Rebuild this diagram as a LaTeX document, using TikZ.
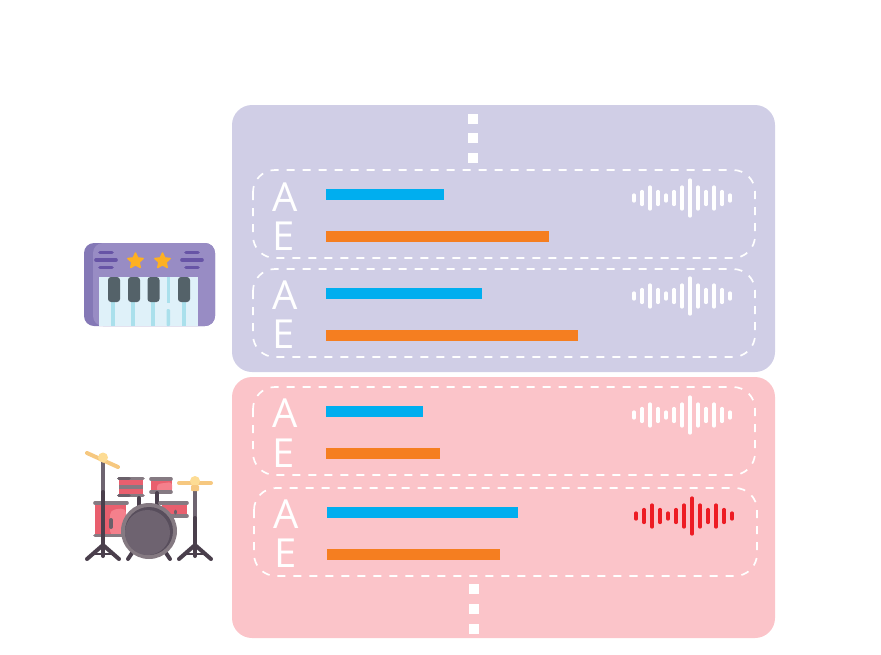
\documentclass[tikz,border=0pt]{standalone}
\usepackage{fontspec}
\setmainfont{Open Sans}
\usetikzlibrary{shapes.geometric}
\definecolor{panelviolet}{RGB}{208,206,230}
\definecolor{panelpink}{RGB}{251,196,201}
\definecolor{barblue}{RGB}{0,174,239}
\definecolor{barorange}{RGB}{245,126,32}
\definecolor{wavered}{RGB}{237,28,36}
\definecolor{pianobody}{RGB}{152,140,196}
\definecolor{pianoside}{RGB}{132,120,182}
\definecolor{pianoline}{RGB}{103,84,166}
\definecolor{keywhite}{RGB}{223,241,249}
\definecolor{keyline}{RGB}{170,224,236}
\definecolor{keyblack}{RGB}{84,98,105}
\definecolor{staryellow}{RGB}{253,176,34}
\definecolor{drumred}{RGB}{233,95,110}
\definecolor{drumlight}{RGB}{244,128,140}
\definecolor{drumgrey}{RGB}{133,122,130}
\definecolor{drumdark}{RGB}{106,96,106}
\definecolor{drumface}{RGB}{110,99,112}
\definecolor{drumshade}{RGB}{88,78,92}
\definecolor{standdark}{RGB}{74,63,76}
\definecolor{standlight}{RGB}{110,100,112}
\definecolor{cymbal}{RGB}{246,200,128}
\definecolor{cymbaltop}{RGB}{253,220,148}
\tikzset{
  panel/.style={rounded corners=20},
  rowbox/.style={draw=white,line width=1.7,rounded corners=22,dash pattern=on 8 off 8},
  rowtext/.style={text=white,font=\fontsize{40}{40}\selectfont,inner sep=0},
  dotbox/.style={fill=white},
  wavebar/.style={line width=3.2,line cap=round},
  stand/.style={line width=4,color=standdark,line cap=round},
  rim/.style={line width=3.6,color=drumgrey,line cap=round},
  pianostar/.style={star,star points=5,star point ratio=2.1,fill=staryellow,draw=staryellow,line join=round,line width=1.5,inner sep=0,minimum size=16}
}
% one sound wave, centred on (#1,#2)
\newcommand{\soundwave}[3]{
  \foreach \i/\h in {-48/3,-40/6.5,-32/11,-24/6.5,-16/3,-8/6.5,0/11,8/18,16/11,24/6.5,32/11,40/6.5,48/3}
    \draw [wavebar,color=#3] (#1+\i,#2-\h) -- (#1+\i,#2+\h);
}
\begin{document}
\begin{tikzpicture}[x=1pt,y=1pt,yscale=-1,xscale=1]
\useasboundingbox (0,0) rectangle (881,654);

%Panels
\fill [panel,panelviolet] (232,105) rectangle (775,372);
\fill [panel,panelpink] (232,377) rectangle (775,638);

%Dots
\foreach \y in {114,133,153}
  \fill [dotbox] (468,\y) rectangle +(10,10);
\foreach \y in {584,604,624}
  \fill [dotbox] (469,\y) rectangle +(10,10);

%Row boxes
\draw [rowbox] (253,170) rectangle (755,258);
\draw [rowbox] (253,269) rectangle (755,357);
\draw [rowbox] (253,387) rectangle (755,475);
\draw [rowbox] (254,488) rectangle (757,576);

%Row labels
\node [rowtext] (a1) at (285,197) {A};
\node [rowtext] (e1) at (284,236) {E};
\node [rowtext] (a2) at (285,295) {A};
\node [rowtext] (e2) at (284,334) {E};
\node [rowtext] (a3) at (285,413) {A};
\node [rowtext] (e3) at (284,453) {E};
\node [rowtext] (a4) at (286.5,514) {A};
\node [rowtext] (e4) at (285.5,553) {E};

%Bars
\fill [barblue] (326,189) rectangle (444,200);
\fill [barorange] (326,231) rectangle (549,242);
\fill [barblue] (326,288) rectangle (482,299);
\fill [barorange] (326,330) rectangle (578,341);
\fill [barblue] (326,406) rectangle (423,417);
\fill [barorange] (326,448) rectangle (440,459);
\fill [barblue] (327,507) rectangle (518,518);
\fill [barorange] (327,549) rectangle (500,560);

%Waves
\soundwave{682}{198}{white}
\soundwave{682}{296}{white}
\soundwave{682}{415}{white}
\soundwave{684}{516}{wavered}

%Piano
\fill [pianoside,rounded corners=10] (84,243) rectangle (215,326);
\fill [pianobody,rounded corners=10] (93,326) -- (93,243) -- (215,243) -- (215,326) -- cycle;
\fill [keywhite] (99,277) rectangle (198,326);
\foreach \x in {113,133,153,184}
  \fill [keyline] (\x-2,300) rectangle (\x+2,326);
\fill [keyline] (166.5,277) rectangle (170,303);
\fill [keyline,rounded corners=1] (166.5,309) rectangle (170,326);
\foreach \x in {114,134,153.5,184}
  \fill [keyblack,rounded corners=3] (\x-6,277) -- (\x+6,277) -- (\x+6,302) -- (\x-6,302) -- cycle;
\foreach \x in {98,184}{
  \draw [pianoline,line width=3.6,line cap=round] (\x+2,252.5) -- (\x+14,252.5);
  \draw [pianoline,line width=3.6,line cap=round] (\x-2,260) -- (\x+18,260);
  \draw [pianoline,line width=3.6,line cap=round] (\x+2,267.5) -- (\x+14,267.5);
}
\node [pianostar] (star1) at (135.5,261) {};
\node [pianostar] (star2) at (162.5,261) {};

%Drums: small toms
\fill [drumred] (119,479) rectangle (143,495);
\draw [rim] (119,478.5) -- (143,478.5);
\draw [rim] (119,495.5) -- (143,495.5);
\draw [line width=4,drumgrey] (119,487) -- (143,487);
\draw [line width=3.6,drumdark,line cap=round] (119,478.5) -- (129,478.5);
\draw [line width=3.6,drumdark,line cap=round] (119,495.5) -- (129,495.5);
\fill [drumred] (151,479) rectangle (172,492);
\fill [drumlight,rounded corners=3] (157,492) -- (157,484) -- (172,482) -- (172,492) -- cycle;
\draw [rim] (151,479) -- (171,479);
\draw [rim] (151,492) -- (171,492);
\draw [stand] (139,498) -- (139,510);
\draw [stand] (157,493) -- (157,505);

%Drums: side toms
\fill [drumred] (95,503) rectangle (126,536);
\fill [drumlight,rounded corners=5] (110,536) -- (110,510) -- (126,508) -- (126,536) -- cycle;
\draw [rim] (95,503) -- (127,503);
\draw [rim] (95,535.5) -- (127,535.5);
\draw [line width=4,line cap=round,drumdark] (111,520) -- (111,527);
\fill [drumred] (162,505) rectangle (187,516);
\draw [rim] (160,503) -- (187,503);
\draw [rim] (165,516) -- (187,516);
\draw [line width=3,line cap=round,drumdark] (175,511) -- (175,513);

%Drums: left cymbal stand
\draw [line width=4,standlight] (103,458) -- (103,492);
\draw [stand] (103,492) -- (103,545);
\draw [stand] (103,545) -- (87,559);
\draw [stand] (103,545) -- (119,559);
\draw [stand] (103,545) -- (103,556);
\draw [line width=2.5,standdark] (93,554) -- (113,554);
\draw [line width=4,cymbal,line cap=round] (87,453) -- (118,467);
\fill [cymbaltop] (103,457.5) circle (5);

%Drums: right cymbal stand
\draw [line width=4,standlight] (195,491) -- (195,518);
\draw [stand] (195,518) -- (195,545);
\draw [stand] (195,545) -- (179,559);
\draw [stand] (195,545) -- (211,559);
\draw [stand] (195,545) -- (195,556);
\draw [line width=2.5,standdark] (185,554) -- (205,554);
\draw [line width=4,cymbal,line cap=round] (179,483) -- (211,483);
\fill [cymbaltop] (195,481) circle (5);
\fill [cymbal,rounded corners=1] (191,485) rectangle (199,491);

%Drums: bass drum
\draw [stand] (134,550) -- (128,559);
\draw [stand] (164,550) -- (170,559);
\fill [drumgrey] (149,531) circle (28);
\fill [drumshade] (149,531) circle (24);
\fill [drumface] (147.5,532.5) circle (22.5);

\end{tikzpicture}
\end{document}
